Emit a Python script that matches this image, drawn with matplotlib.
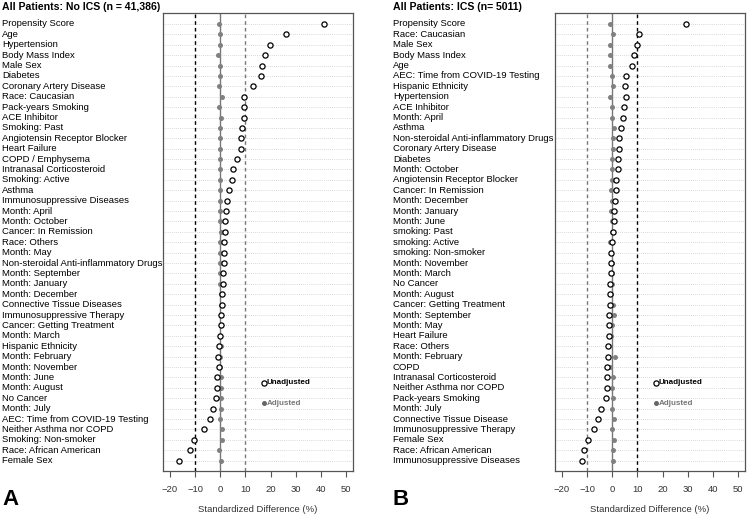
import matplotlib
matplotlib.use("Agg")
from matplotlib import pyplot as plt
from matplotlib.transforms import blended_transform_factory

plt.rcParams['font.family'] = ['Liberation Sans', 'DejaVu Sans']

# Panel A: No ICS
labels_a = [
    "Propensity Score", "Age", "Hypertension", "Body Mass Index", "Male Sex",
    "Diabetes", "Coronary Artery Disease", "Race: Caucasian", "Pack-years Smoking",
    "ACE Inhibitor", "Smoking: Past", "Angiotensin Receptor Blocker", "Heart Failure",
    "COPD / Emphysema", "Intranasal Corticosteroid", "Smoking: Active", "Asthma",
    "Immunosuppressive Diseases", "Month: April", "Month: October",
    "Cancer: In Remission", "Race: Others", "Month: May",
    "Non-steroidal Anti-inflammatory Drugs", "Month: September", "Month: January",
    "Month: December", "Connective Tissue Diseases", "Immunosuppressive Therapy",
    "Cancer: Getting Treatment", "Month: March", "Hispanic Ethnicity",
    "Month: February", "Month: November", "Month: June", "Month: August",
    "No Cancer", "Month: July", "AEC: Time from COVID-19 Testing",
    "Neither Asthma nor COPD", "Smoking: Non-smoker", "Race: African American",
    "Female Sex",
]
unadj_a = [41.4, 26.1, 19.7, 17.9, 16.7, 16.4, 13.1, 9.5, 9.4, 9.3, 8.6, 8.2, 8.1,
           6.6, 5.0, 4.8, 3.3, 2.8, 2.3, 2.0, 1.7, 1.6, 1.3, 1.6, 0.9, 1.1, 0.5,
           0.5, 0.3, 0.3, -0.3, -0.7, -0.8, -0.7, -1.2, -1.5, -1.6, -3.0, -4.2,
           -6.6, -10.6, -11.9, -16.5]
adj_a = [-0.5, 0.0, -0.2, -0.8, -0.2, -0.3, -0.4, 0.7, -0.4, 0.4, -0.2, 0.0, -0.3,
         -0.3, -0.3, -0.2, -0.3, -0.3, -0.2, 0.0, 0.3, 0.0, -0.2, -0.2, -0.3, -0.2,
         0.2, 0.3, 0.2, 0.2, 0.0, 0.3, 0.0, 0.0, 0.1, 0.1, 0.3, 0.1, -0.1, 0.6,
         0.6, -0.5, 0.1]

# Panel B: ICS
labels_b = [
    "Propensity Score", "Race: Caucasian", "Male Sex", "Body Mass Index", "Age",
    "AEC: Time from COVID-19 Testing", "Hispanic Ethnicity", "Hypertension",
    "ACE Inhibitor", "Month: April", "Asthma", "Non-steroidal Anti-inflammatory Drugs",
    "Coronary Artery Disease", "Diabetes", "Month: October",
    "Angiotensin Receptor Blocker", "Cancer: In Remission", "Month: December",
    "Month: January", "Month: June", "smoking: Past", "smoking: Active",
    "smoking: Non-smoker", "Month: November", "Month: March", "No Cancer",
    "Month: August", "Cancer: Getting Treatment", "Month: September", "Month: May",
    "Heart Failure", "Race: Others", "Month: February", "COPD",
    "Intranasal Corticosteroid", "Neither Asthma nor COPD", "Pack-years Smoking",
    "Month: July", "Connective Tissue Disease", "Immunosuppressive Therapy",
    "Female Sex", "Race: African American", "Immunosuppressive Diseases",
]
unadj_b = [29.2, 10.8, 9.7, 8.6, 7.8, 5.5, 5.1, 5.3, 4.7, 4.3, 3.6, 2.6, 2.6, 2.4,
           2.2, 1.6, 1.3, 0.9, 0.7, 0.7, 0.3, -0.3, -0.4, -0.4, -0.5, -0.8, -1.1,
           -0.9, -1.2, -1.2, -1.2, -1.6, -1.8, -2.0, -2.2, -2.2, -2.4, -4.6, -5.7,
           -7.4, -9.7, -11.1, -12.1]
adj_b = [-1.1, 0.3, -0.9, -0.8, -0.8, -0.1, 0.1, -0.8, -0.1, 0.0, 0.7, 0.1, 0.1,
         0.0, -0.1, 0.0, -0.4, -0.1, -0.4, 0.0, -0.3, -0.8, -0.4, 0.0, 0.0, -0.1,
         -0.5, 0.1, 0.5, -0.3, -0.5, -1.3, 0.9, -0.8, 0.3, -0.3, 0.3, 0.0, 0.6,
         0.0, 0.8, 0.3, 0.4]

xticks = [-20, -10, 0, 10, 20, 30, 40, 50]

fig = plt.figure(figsize=(7.47, 5.17), dpi=100)

panels = [
    ("All Patients: No ICS (n = 41,386)", "A", labels_a, unadj_a, adj_a,
     0.2182, 0.003, ('black', '#777777')),
    ("All Patients: ICS (n= 5011)", "B", labels_b, unadj_b, adj_b,
     0.743, 0.526, ('#777777', 'black')),
]

for title, letter, labels, unadj, adj, left, text_x, dash_cols in panels:
    ax = fig.add_axes([left, 0.089, 0.2543, 0.886])
    n = len(labels)
    ys = [n - i for i in range(n)]
    ax.set_xlim(-22.8, 52.8)
    ax.set_ylim(0.0, n + 1.06)

    for y in ys:
        ax.axhline(y, color='#cccccc', lw=0.6, ls=(0, (1, 1.5)), zorder=0)
    ax.axvline(0, color='#777777', lw=1.0, zorder=1)
    ax.axvline(-10, color=dash_cols[0], lw=1.0, ls=(0, (2.6, 2.2)), zorder=1)
    ax.axvline(10, color=dash_cols[1], lw=1.0, ls=(0, (2.6, 2.2)), zorder=1)

    ax.scatter(adj, ys, s=13, color='#808080', zorder=2, linewidths=0)
    ax.scatter(unadj, ys, s=14, facecolors='white', edgecolors='black',
               linewidths=0.9, zorder=3)

    tr = blended_transform_factory(fig.transFigure, ax.transData)
    for y, lab in zip(ys, labels):
        ax.text(text_x, y, lab, transform=tr, ha='left', va='center',
                fontsize=6.8, color='black')

    # legend
    ax.scatter([17.2], [8.5], s=14, facecolors='white', edgecolors='black',
               linewidths=0.9, zorder=3, clip_on=False)
    ax.text(18.4, 8.5, "Unadjusted", fontsize=5.8, fontweight='bold',
            va='center', ha='left', color='black')
    ax.scatter([17.2], [6.5], s=13, color='#666666', zorder=3, linewidths=0)
    ax.text(18.4, 6.5, "Adjusted", fontsize=5.8, fontweight='bold',
            va='center', ha='left', color='#777777')

    ax.set_xticks(xticks)
    ax.set_xticklabels([str(t).replace('-', '\u2212') for t in xticks],
                       fontsize=6.8, color='#333333')
    ax.set_yticks([])
    ax.tick_params(axis='x', length=4, width=0.8, color='#555555', pad=6)
    for sp in ax.spines.values():
        sp.set_color('#555555')
        sp.set_linewidth(0.9)
    ax.set_xlabel("Standardized Difference (%)", fontsize=6.8, color='#333333',
                  labelpad=8)

    fig.text(text_x, 0.986, title, fontsize=7.6, fontweight='bold',
             ha='left', va='center')
    fig.text(text_x, 0.033, letter, fontsize=16, fontweight='bold',
             ha='left', va='center')

fig.savefig("out.png", dpi=100)
